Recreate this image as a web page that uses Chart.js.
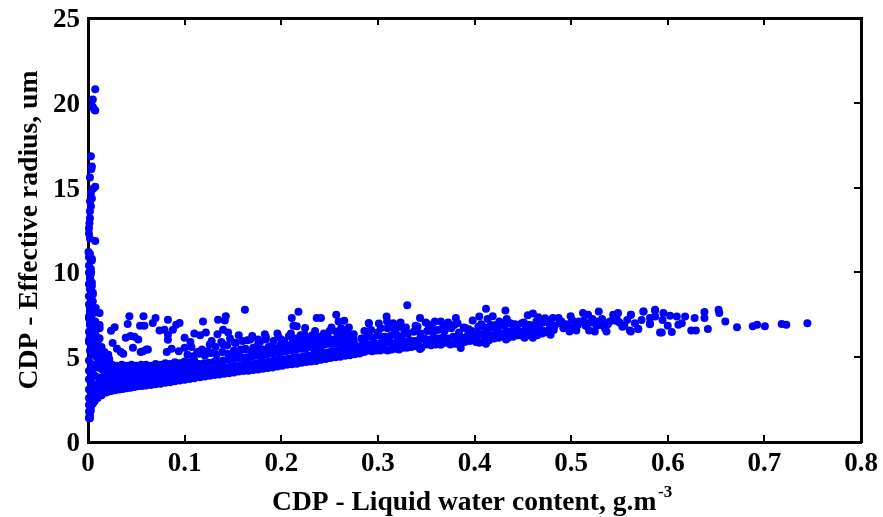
<!DOCTYPE html>
<html><head><meta charset="utf-8">
<script src="https://cdn.jsdelivr.net/npm/chart.js@4"></script>
<style>html,body{margin:0;padding:0;background:#fff}canvas{display:block}</style>
</head><body><canvas id="c" width="883" height="517"></canvas>
<script>
const xTickValues=[0,0.1,0.2,0.3,0.4,0.5,0.6,0.7,0.8];
const yTickValues=[0,5,10,15,20,25];
const xTitle="CDP - Liquid water content, g.m   ";
const xTitleExponent="-3";
const yTitle="CDP - Effective radius, um";

const columnX=[0.0075,0.005,0.005,0.0075,0.0065,0.003,0.004,0.0035,0.002,0.0075,0.0055,0.003,0.004,0.002,0.003,0.002,0.002,0.0015,0.001,0.001,0.002,0.0075,0.0005,0.001,0.004,0.001,0.001,0.002,0.003,0.001,0.004,0.002,0.005,0.001,0.003,0.005,0.001,0.002,0.004,0.006,0.001,0.003,0.0075,0.002,0.005,0.012,0.012,0.008,0.012,0.001,0.003,0.006,0.009,0.012,0.001,0.004,0.007,0.01,0.014,0.017,0.021,0.002,0.005,0.008,0.012,0.016,0.02,0.001,0.003,0.006,0.009,0.013,0.017,0.001,0.004,0.007,0.011,0.015,0.001,0.003,0.006,0.009,0.012,0.001,0.003,0.006,0.009,0.001,0.004,0.007,0.001,0.003,0.005,0.001,0.003,0.002,0.001,0.002,0.0015];
const columnY=[20.8,20.2,19.75,19.55,19.6,16.85,16.25,16.1,15.6,15.05,14.95,14.7,14.35,14.2,13.9,13.6,13.2,12.9,12.6,12.3,12,11.85,11.2,10.9,10.7,10.4,10,9.7,9.9,9.3,9.4,9,8.8,8.6,8.5,8.3,8.1,7.9,8,7.7,7.4,7.5,7.1,7,6.7,7.6,6.9,7.9,6.1,6.5,6.3,6.5,6.2,6.7,5.9,5.8,5.9,5.5,5.6,5.3,5.15,5.4,5.2,5.1,4.9,4.95,4.7,4.8,4.6,4.55,4.4,4.5,4.2,4.2,4.1,3.9,3.8,3.6,3.7,3.55,3.4,3.3,3.1,3.1,3,2.8,2.75,2.6,2.5,2.4,2.2,2.1,2.25,1.8,1.85,1.6,1.4,1.4,1.5];

const wedgeX=[0.002,0.004,0.003,0.002,0.004,0.003,0.002,0.005,0.003,0.002,0.004,0.001,0.006,0.004,0.002,0.003,0.005,0.002,0.004,0.001,0.006,0.008,0.005,0.003,0.007,0.01,0.006,0.008,0.011,0.013,0.009,0.015,0.012,0.018,0.014,0.016,0.019,0.022,0.017,0.024,0.008,0.011,0.015,0.019,0.007,0.01,0.014,0.018,0.006,0.009,0.013,0.017,0.021,0.006,0.01,0.014,0.018,0.022];
const wedgeY=[11.1,10.8,10.2,9.6,9.2,8.9,8.6,8.7,8.2,7.7,7.8,7.3,7.6,7.2,6.9,6.6,7,6.2,6.4,6,6.2,6.6,5.6,5.9,5.5,5.8,5.2,5.4,5.3,5.5,5,5.2,4.6,4.9,4.3,4.6,4.3,4.9,4,4.55,3.2,3.4,3.6,3.8,2.9,3,3.2,3.4,2.7,2.8,2.9,3.05,3.2,2.4,2.6,2.75,2.9,3];

const bandX=[0.02,0.024,0.028,0.032,0.036,0.04,0.044,0.048,0.052,0.056,0.06,0.065,0.07,0.075,0.08,0.085,0.09,0.095,0.1,0.105,0.11,
0.022,0.026,0.03,0.034,0.038,0.042,0.046,0.05,0.054,0.058,0.062,0.067,0.072,0.077,0.082,0.087,0.092,0.097,0.102,0.107,0.112,
0.021,0.025,0.029,0.033,0.037,0.041,0.045,0.049,0.053,0.057,0.061,0.066,0.071,0.076,0.081,0.086,0.091,0.096,0.101,0.106,0.111,
0.023,0.027,0.031,0.035,0.039,0.043,0.047,0.051,0.055,0.059,0.063,0.068,0.073,0.078,0.083,0.088,0.093,0.098,0.103,0.108,0.113,
0.02,0.025,0.03,0.035,0.04,0.045,0.05,0.055,0.06,0.065,0.07,0.075,0.08,0.085,0.09,0.095,0.1,0.105,0.11,
0.116,0.121,0.126,0.131,0.136,0.141,0.146,0.151,0.156,0.161,0.166,0.171,0.176,0.181,0.186,0.191,0.196,0.201,0.206,0.211,0.216,0.221,0.226,0.231,0.236,0.241,0.246,0.251,0.256,0.261,0.266,0.271,0.276,0.281,
0.118,0.123,0.128,0.133,0.138,0.143,0.148,0.153,0.158,0.163,0.168,0.173,0.178,0.183,0.188,0.193,0.198,0.203,0.208,0.213,0.218,0.223,0.228,0.233,0.238,0.243,0.248,0.253,0.258,0.263,0.268,0.273,0.278,
0.115,0.12,0.125,0.13,0.135,0.14,0.145,0.15,0.155,0.16,0.165,0.17,0.175,0.18,0.185,0.19,0.195,0.2,0.205,0.21,0.215,0.22,0.225,0.23,0.235,0.24,0.245,0.25,0.255,0.26,0.265,0.27,0.275,
0.222,0.229,0.236,0.242,0.248,0.254,0.259,0.264,0.269,0.274,0.226,0.234,0.241,0.247,0.252,0.257,0.262,0.267,0.272,0.277];
const bandY=[2.95,3,3.05,3.1,3.12,3.17,3.2,3.25,3.28,3.3,3.33,3.36,3.4,3.44,3.5,3.52,3.58,3.62,3.67,3.72,3.76,
3.35,3.4,3.42,3.48,3.5,3.55,3.58,3.6,3.62,3.65,3.68,3.7,3.75,3.78,3.8,3.85,3.9,3.92,3.98,4,4.05,
3.75,3.8,3.8,3.85,3.88,3.9,3.92,3.95,3.95,3.98,4,4.02,4.05,4.08,4.1,4.15,4.18,4.2,4.22,4.25,4.3,
4.15,4.2,4.2,4.22,4.25,4.25,4.28,4.3,4.3,4.32,4.35,4.35,4.38,4.4,4.45,4.45,4.48,4.5,4.55,4.55,4.6,
4.5,4.55,4.5,4.55,4.5,4.55,4.5,4.55,4.55,4.5,4.6,4.55,4.65,4.6,4.7,4.65,4.75,4.7,4.8,
3.82,3.86,3.9,3.95,3.98,4.02,4.06,4.1,4.15,4.18,4.2,4.24,4.28,4.32,4.36,4.4,4.45,4.5,4.55,4.58,4.62,4.68,4.72,4.75,4.78,4.85,4.9,4.95,5,5.02,5.08,5.12,5.18,5.22,
4.2,4.25,4.28,4.32,4.38,4.4,4.45,4.48,4.52,4.55,4.6,4.65,4.68,4.72,4.75,4.8,4.85,4.88,4.92,4.98,5,5.05,5.1,5.15,5.2,5.22,5.28,5.35,5.38,5.42,5.48,5.52,5.55,
4.6,4.65,4.68,4.72,4.75,4.8,4.85,4.9,4.95,4.95,5,5.05,5.1,5.12,5.18,5.2,5.25,5.3,5.35,5.4,5.42,5.5,5.5,5.6,5.6,5.7,5.75,5.8,5.8,5.85,5.9,5.95,6,
5.75,5.85,6.05,5.95,6.2,6.05,6.3,6.2,6.35,6.15,5.6,5.5,5.55,6.25,5.35,6.5,5.5,6.45,5.65,5.7];

const scatterX=[0.0238,0.0276,0.0411,0.0428,0.0574,0.0539,0.0584,0.0699,0.067,0.0827,0.074,0.0792,0.0948,0.0913,0.0879,0.0827,0.0827,0.119,0.1346,0.1426,0.1416,0.1624,0.1398,0.2109,0.2178,0.2126,0.216,0.2247,0.2367,0.2411,0.2569,0.2593,0.2652,0.2906,
0.0255,0.03,0.034,0.039,0.044,0.048,0.052,0.057,0.062,0.0365,0.0465,0.0545,0.0605,0.0815,0.0865,0.094,0.1,0.107,0.113,0.118,0.124,0.1,0.106,0.11,0.116,0.122,0.128,0.134,0.14,0.147,0.153,0.158,0.165,0.171,0.178,0.184,0.19,0.197,0.204,0.21,0.145,0.15,0.156,0.163,0.17,0.176,0.183,0.19,0.196,0.203,0.212,0.22,0.228,0.235,0.244,0.25,0.258,0.265,0.27,0.275,0.192,0.198,0.205,0.215,0.224,0.232,0.24,0.248,0.252,0.262,0.268];
const scatterY=[6.56,6.76,6.96,7.41,7.41,6.86,6.86,7.31,7.02,7.21,6.58,6.62,7.02,6.92,6.62,6.33,6.03,7.11,7.21,7.41,7.17,7.8,6.62,7.31,7.68,6.86,6.82,6.72,7.31,7.31,7.51,7.11,7.15,7.02,
5.84,5.5,5.3,6.15,6.25,6.2,6.05,5.35,5.45,5.2,5.55,5.3,5.45,5.3,5.5,5.35,5.55,5.6,5.3,5.45,5.35,6.15,5.9,6.4,6.3,6.45,5.95,6.35,5.75,6.1,5.85,5.45,6,5.55,5.9,6.05,5.45,6.2,5.75,6.4,6.45,5.2,6.3,5.5,6.25,6.05,6.35,5.65,6.4,5.95,6.05,6.3,6.1,6.55,6.4,6.55,6.5,6.55,6.75,6.35,5.55,5.3,5.55,5.85,5.65,6,6.2,6.05,6.75,6.7,6.35];

const fillX=[0.103,0.109,0.115,0.121,0.127,0.133,0.139,0.145,0.151,0.157,0.163,0.169,0.175,0.181,0.187,0.193,0.199,0.205,0.211,0.217,0.223,0.229,0.235,0.241,
0.126,0.132,0.138,0.144,0.152,0.16,0.168,0.176,0.184,0.192,0.2,0.208,0.216,0.224,0.232,
0.288,0.297,0.306,0.315,0.324,0.333,0.342,0.352,0.361,0.372,0.382,0.392,0.402,0.412,0.422,0.432,0.442,0.452,0.462,0.472,0.482,0.492,
0.291,0.303,0.317,0.329,0.341,0.356,0.367,0.379,0.394,0.406,0.419,0.429,0.439,0.449,0.456,0.467,0.478,0.488,0.496,0.506,0.516,0.526,0.536,0.546];
const fillY=[5.15,5.05,5.2,5.1,5.25,5.15,5.3,5.2,5.4,5.3,5.45,5.35,5.5,5.45,5.6,5.5,5.7,5.6,5.8,5.7,5.9,5.85,6.05,5.95,
5.75,5.6,5.9,5.7,5.85,5.95,6.05,5.75,6.2,5.95,6.05,6.25,6.1,6.35,6.3,
5.55,5.6,5.7,5.65,5.75,5.8,5.8,5.9,5.9,6,6,6.1,6.15,6.2,6.25,6.35,6.4,6.45,6.5,6.55,6.6,6.7,
6.55,6.7,6.6,6.75,6.8,6.85,6.7,6.9,6.65,6.8,6.75,6.9,6.95,7,6.9,7.05,6.75,7,6.8,7.05,6.85,7.1,6.9,7.15];

const tailX=[0.2906,0.301,0.309,0.3095,0.3304,0.3235,0.316,0.3436,0.3495,0.3589,0.3651,0.3727,0.3807,0.3825,0.3981,0.405,0.4119,0.4188,0.432,0.4135,0.4257,0.4334,0.4551,0.4604,0.466,0.473,0.4811,0.487,0.4995,0.5123,0.5176,0.5286,0.5486,0.5435,0.5618,0.575,0.5868,
0.3436,0.3651,0.3858,0.4014,0.4119,0.4327,0.4518,0.4604,0.4787,0.4984,0.5054,0.5186,0.5245,0.5366,0.5618,0.5695,0.5815,0.592,
0.282,0.286,0.29,0.294,0.298,0.302,0.306,0.31,0.314,0.318,0.322,0.326,0.33,0.335,0.34,0.345,0.35,0.355,0.36,0.365,0.37,0.375,0.38,0.385,0.39,0.395,0.4,0.405,0.41,0.415,0.42,0.425,0.43,0.435,0.44,0.445,0.45,0.455,0.46,0.465,0.47,0.475,
0.284,0.288,0.292,0.296,0.3,0.304,0.308,0.312,0.316,0.32,0.324,0.328,0.333,0.338,0.343,0.348,0.353,0.358,0.363,0.368,0.373,0.378,0.383,0.388,0.393,0.398,0.403,0.408,0.413,0.418,0.423,0.428,0.433,0.438,0.443,0.448,0.453,0.458,0.463,0.468,
0.283,0.289,0.295,0.301,0.307,0.313,0.319,0.325,0.331,0.337,0.344,0.351,0.357,0.362,0.369,0.376,0.384,0.391,0.397,0.404,0.411,0.417,0.424,0.431,0.437,0.444,0.451,0.457,0.464,0.471,
0.286,0.293,0.3,0.31,0.32,0.327,0.339,0.352,0.371,0.389,0.407,0.422,0.442,0.47,
0.477,0.483,0.49,0.495,0.501,0.507,0.513,0.52,0.526,0.532,0.538,0.544,0.55,0.555,0.558,
0.5,0.508,0.515,0.522,0.53,0.54,0.535,0.547,0.553,0.5619,0.5747,0.5869,0.5955,0.6024,0.6094,0.618,0.6278,0.638,0.638,0.6526,0.6533,0.6596,0.6717,0.688,0.6925,0.7005,0.7179,0.7227,0.7445,
0.6243,0.6291,0.6415,0.5938,0.6042,0.6,0.6145,0.611,0.5816,0.5816,0.5729,0.5695,0.5608,0.566,0.587,0.5946];
const tailY=[6.99,6.99,7.4,7.1,8.06,7.05,7,7.31,7.05,7.11,7.11,7.05,7.31,7,7.17,7.4,7.86,7.41,7.76,7.25,7.11,7.25,7.48,7.58,7.35,7.3,7.31,7.31,7.41,7.6,7.5,7.7,7.6,7.5,7.5,7.7,7.76,
5.48,5.73,5.54,5.9,5.8,6.05,6.15,6.15,6.33,6.52,6.57,6.57,6.52,6.52,6.52,6.66,6.95,6.46,
5.35,5.3,5.4,5.35,5.4,5.4,5.45,5.4,5.45,5.5,5.45,5.55,5.55,5.6,5.65,5.55,5.75,5.7,5.75,5.8,5.85,5.75,5.8,5.7,5.9,5.95,6,5.85,6.05,6,6.1,6.15,6.2,6.15,6.2,6.3,6.25,6.3,6.35,6.3,6.4,6.45,
5.7,5.8,5.75,5.85,5.8,5.9,5.85,5.9,5.8,5.95,5.9,5.9,6,5.95,6.05,6.1,6.05,6.15,6.1,6.2,6.1,6.2,6.3,6.15,6.3,6.25,6.4,6.35,6.45,6.3,6.5,6.4,6.55,6.5,6.6,6.5,6.65,6.6,6.7,6.65,
6.1,6.2,6.15,6.3,6.2,6.25,6.35,6.25,6.4,6.5,6.4,6.55,6.45,6.6,6.55,6.7,6.45,6.7,6.55,6.8,6.75,6.9,6.7,6.85,7,6.85,7.05,6.9,7.1,7.05,
6.55,6.6,6.45,6.7,6.75,6.65,6.85,6.95,6.9,6.75,6.95,6.9,6.95,7.1,
7,6.85,7.1,6.95,7.2,6.9,7.15,7.05,6.85,7.25,6.95,7.3,7.05,6.85,7.2,
6.75,7.1,6.85,7.25,6.9,7.1,6.7,7.3,6.8,7.5,7.7,7.8,7.6,7.45,7.4,7.4,7.31,7.66,7.31,7.8,7.6,7.11,6.76,6.82,6.92,6.82,6.96,6.92,7,
6.57,6.57,6.66,6.46,6.48,6.86,7,6.92,6.98,7.31,7.2,6.66,6.58,7,7.4,7.2];

const zip=(xs,ys)=>xs.map((x,i)=>({x,y:ys[i]}));
const BLUE="#0000ff",BLACK="#000000";
const FONT="'Liberation Serif','Times New Roman',serif";
const grid=(len)=>({display:true,drawOnChartArea:false,drawTicks:true,tickLength:len,tickColor:BLACK,tickWidth:2,color:BLACK,lineWidth:2});
const border={display:true,color:BLACK,width:3};
const setTicks=(vals)=>(s)=>{s.ticks=vals.map(v=>({value:v}));};
const fit=(prop,v)=>(s)=>{s[prop]=v;s.paddingLeft=s.paddingRight=s.paddingTop=s.paddingBottom=0;};
const series=(d)=>({data:d,backgroundColor:BLUE,borderColor:BLUE,borderWidth:0,pointRadius:4,pointHoverRadius:4,showLine:false,clip:false});

const exponentPlugin={id:"exponent",afterDraw(chart){
  const c=chart.ctx;c.save();c.font="bold 17px "+FONT;c.fillStyle=BLACK;c.textAlign="left";c.textBaseline="alphabetic";
  c.fillText(xTitleExponent,658,497);c.restore();
}};

new Chart(document.getElementById("c"),{
  type:"scatter",
  data:{datasets:[series(zip(columnX,columnY)),series(zip(wedgeX,wedgeY)),series(zip(bandX,bandY)),series(zip(scatterX,scatterY)),series(zip(fillX,fillY)),series(zip(tailX,tailY))]},
  plugins:[exponentPlugin],
  options:{
    responsive:false,animation:false,
    layout:{padding:0},
    plugins:{legend:{display:false},tooltip:{enabled:false}},
    scales:{
      x:{type:"linear",position:"bottom",min:0,max:0.8,afterBuildTicks:setTicks(xTickValues),afterFit:fit("height",75),
        grid:grid(-7),border,
        ticks:{color:BLACK,padding:13,font:{family:FONT,size:27,weight:"bold"},maxRotation:0,autoSkip:false,callback:v=>String(v)},
        title:{display:true,text:xTitle,color:BLACK,padding:{top:0,bottom:-2},font:{family:FONT,size:27.5,weight:"bold"}}},
      y:{type:"linear",position:"left",min:0,max:25,afterBuildTicks:setTicks(yTickValues),afterFit:fit("width",88),
        grid:grid(-7),border,
        ticks:{color:BLACK,padding:15,labelOffset:2,font:{family:FONT,size:27,weight:"bold"},autoSkip:false,callback:v=>String(v)},
        title:{display:true,text:yTitle,color:BLACK,padding:{top:13,bottom:0},font:{family:FONT,size:27.7,weight:"bold"}}},
      xTop:{type:"linear",position:"top",min:0,max:0.8,afterBuildTicks:setTicks(xTickValues),afterFit:fit("height",18),
        grid:grid(-7),border,ticks:{display:false}},
      yRight:{type:"linear",position:"right",min:0,max:25,afterBuildTicks:setTicks(yTickValues),afterFit:fit("width",22),
        grid:grid(-7),border,ticks:{display:false}}
    }
  }
});
</script></body></html>
